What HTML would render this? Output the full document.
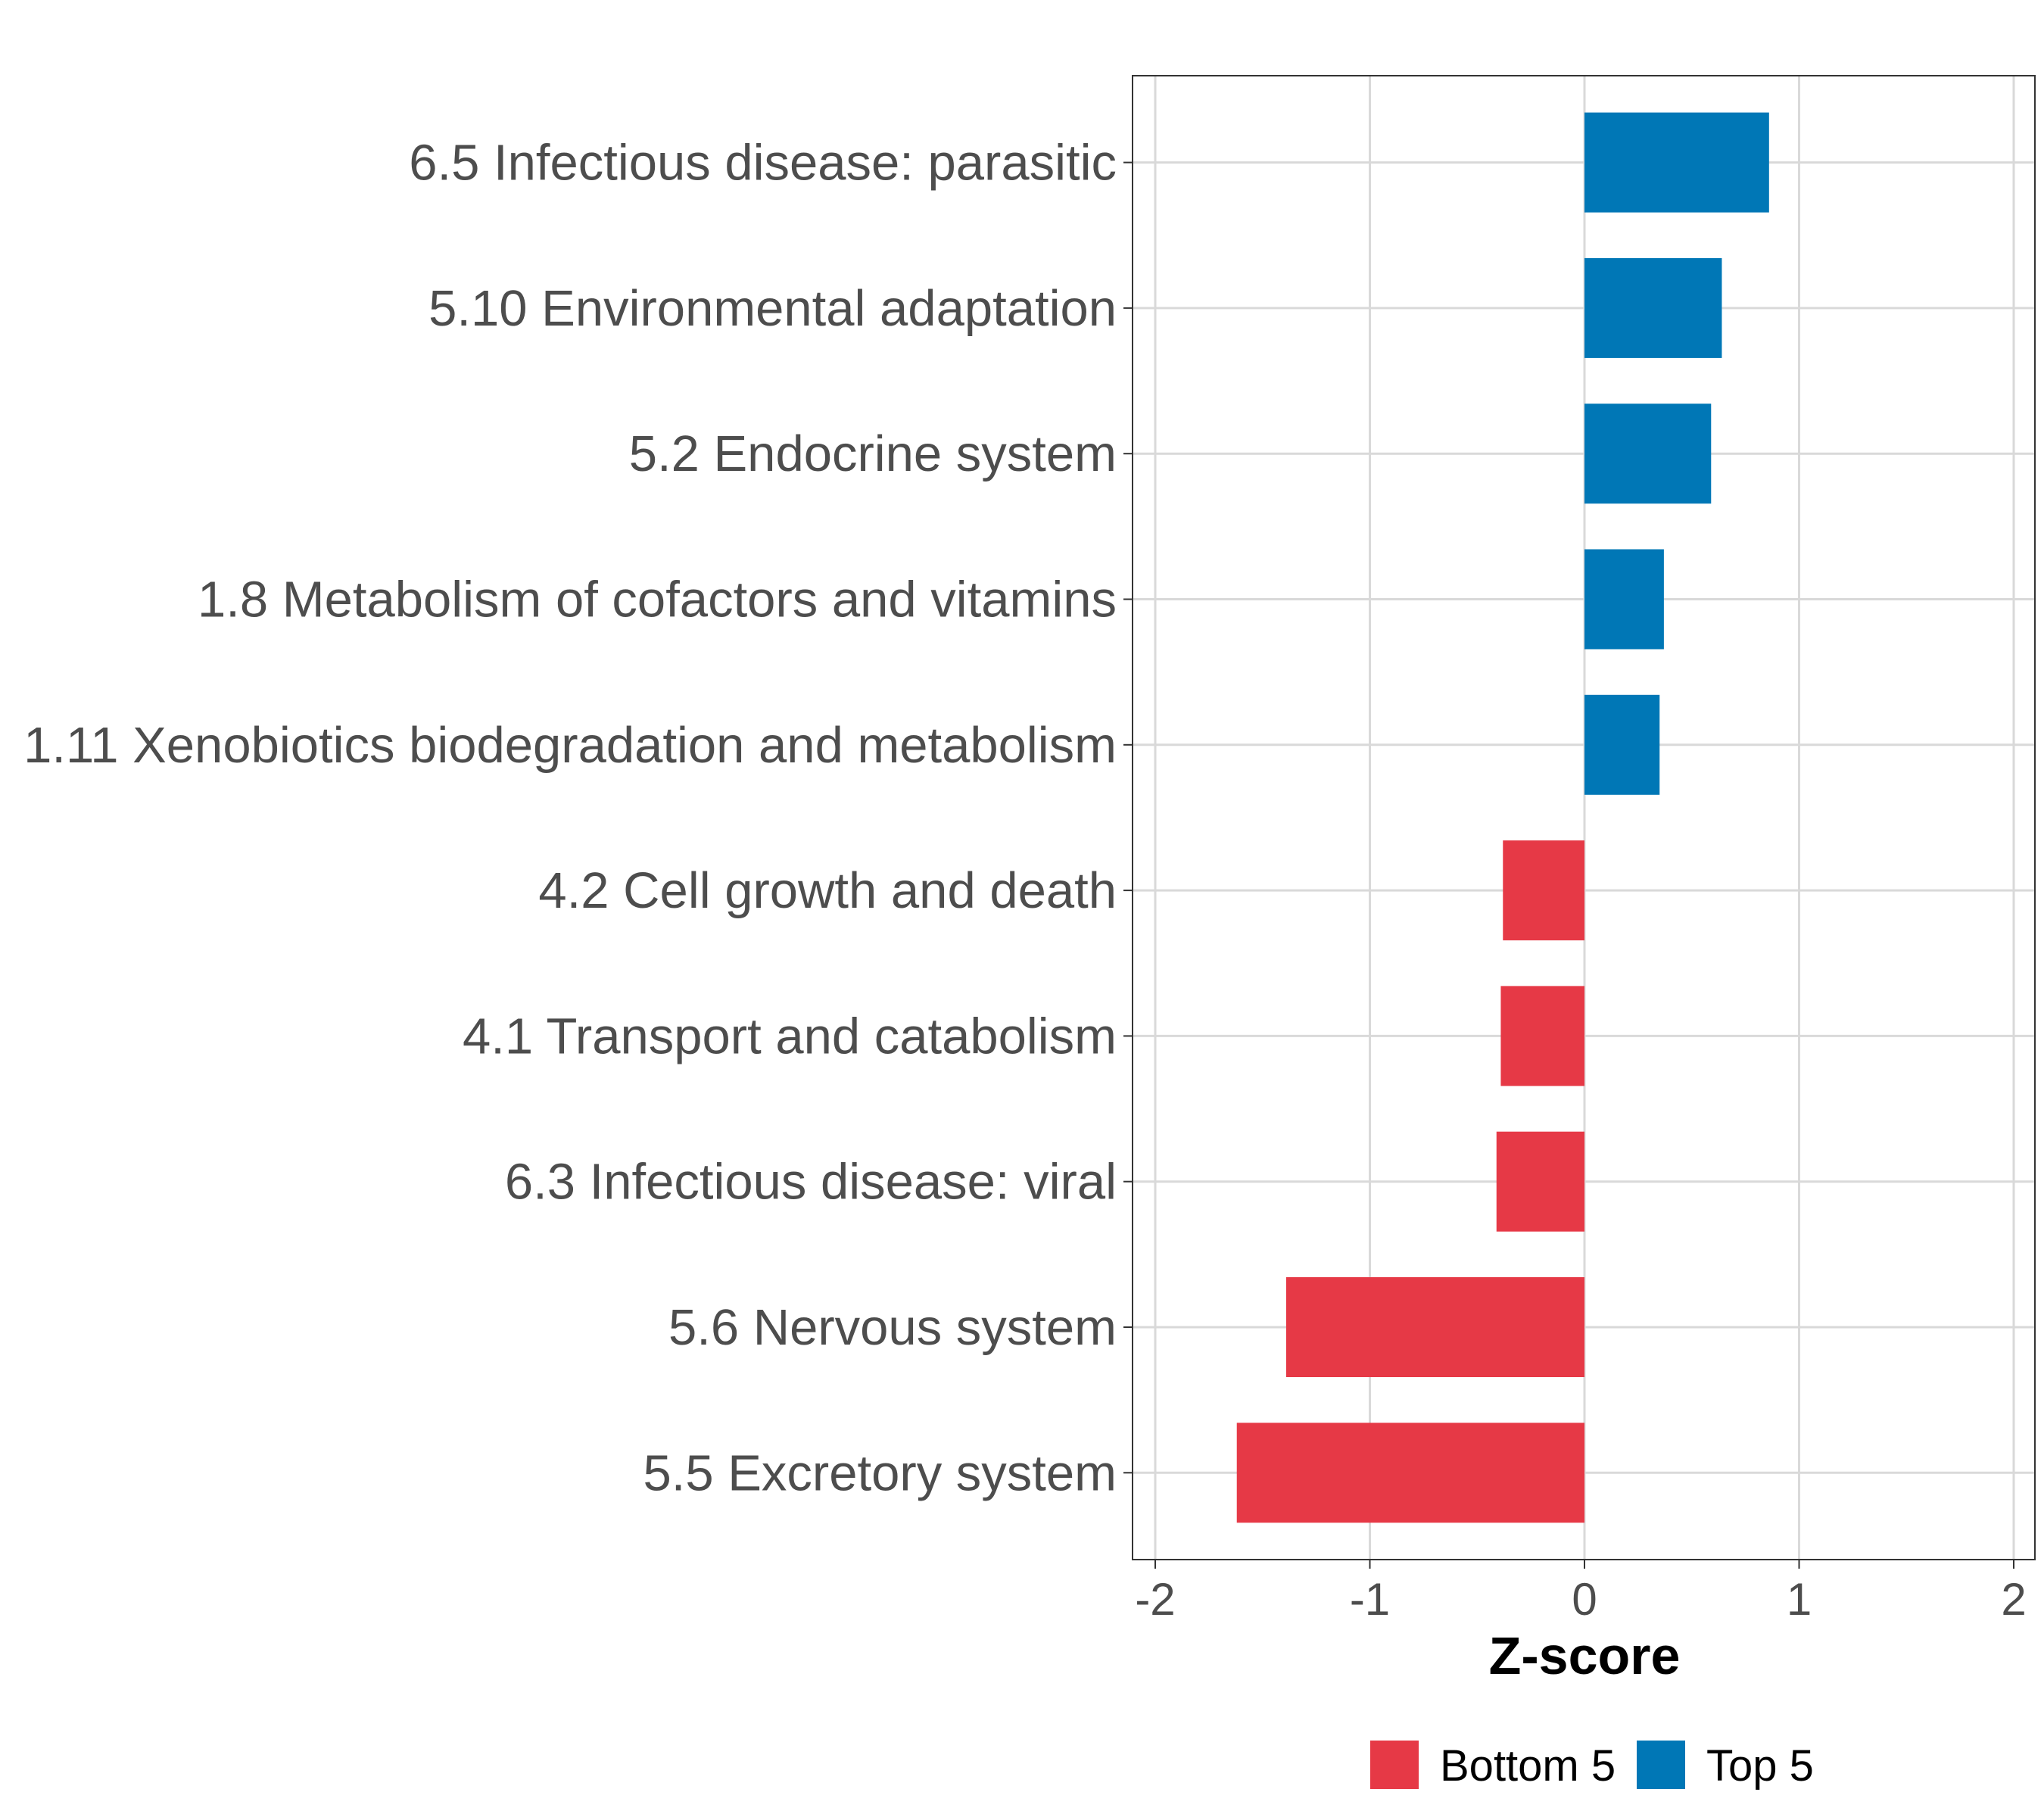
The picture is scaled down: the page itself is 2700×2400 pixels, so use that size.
<!DOCTYPE html>
<html><head><meta charset="utf-8"><style>
html,body{margin:0;padding:0;background:#fff;}
svg{display:block;font-family:"Liberation Sans",Arial,sans-serif;}
</style></head><body>
<svg id="chart" width="2700" height="2400" viewBox="0 0 2700 2400" xmlns="http://www.w3.org/2000/svg">
<rect x="0" y="0" width="2700" height="2400" fill="#fff"/>
<g id="grid"></g>
<g id="bars"></g>
<rect x="1496" y="100" width="1192" height="1960" fill="none" stroke="#333" stroke-width="2"/>
<g id="axes"></g>
<text x="2093" y="2211" text-anchor="middle" font-size="70" font-weight="bold" fill="#000">Z-score</text>
<g>
<rect x="1810" y="2299" width="64" height="64" fill="#e63946"/>
<text x="1902" y="2352" font-size="58" fill="#000">Bottom 5</text>
<rect x="2162" y="2299" width="64" height="64" fill="#0077b6"/>
<text x="2254" y="2352" font-size="58" fill="#000">Top 5</text>
</g>
</svg>
<script>
const categories = ["6.5 Infectious disease: parasitic","5.10 Environmental adaptation","5.2 Endocrine system","1.8 Metabolism of cofactors and vitamins","1.11 Xenobiotics biodegradation and metabolism","4.2 Cell growth and death","4.1 Transport and catabolism","6.3 Infectious disease: viral","5.6 Nervous system","5.5 Excretory system"];
const zScores = [0.86, 0.64, 0.59, 0.37, 0.35, -0.38, -0.39, -0.41, -1.39, -1.62];
const groups = ["Top 5","Top 5","Top 5","Top 5","Top 5","Bottom 5","Bottom 5","Bottom 5","Bottom 5","Bottom 5"];
const xTicks = [-2, -1, 0, 1, 2];
const xTickLabels = ["-2","-1","0","1","2"];

const NS = "http://www.w3.org/2000/svg";
const panel = {l:1496, r:2688, t:100, b:2060};
function xScale(v){ return 2093 + v * 283.5; }
function yScale(i){ return 214.6 + i * 192.3; }
const barH = 132;
const colors = {"Top 5":"#0077b6","Bottom 5":"#e63946"};
function mk(tag, attrs, parent){ const e=document.createElementNS(NS,tag); for(const k in attrs) e.setAttribute(k,attrs[k]); parent.appendChild(e); return e; }
const grid=document.getElementById('grid'), bars=document.getElementById('bars'), axes=document.getElementById('axes');

xTicks.forEach((t,i)=>{
  const x=xScale(t);
  const g=mk('line',{x1:x,x2:x,y1:panel.t,y2:panel.b,stroke:'#d9d9d9','stroke-width':3},grid);
  
  
  const tk=mk('line',{x1:x,x2:x,y1:panel.b,y2:panel.b+12,stroke:'#333','stroke-width':2},axes);
  
  
  const tl=mk('text',{x:x,y:2133,'text-anchor':'middle','font-size':60,fill:'#4d4d4d'},axes);
  tl.textContent=xTickLabels[i];
  
  
});
categories.forEach((c,i)=>{
  const y=yScale(i);
  const g=mk('line',{x1:panel.l,x2:panel.r,y1:y,y2:y,stroke:'#d9d9d9','stroke-width':3},grid);
  
  
  const v=zScores[i];
  const x0=xScale(Math.min(0,v)), x1=xScale(Math.max(0,v));
  const b=mk('rect',{x:x0,y:y-barH/2,width:x1-x0,height:barH,fill:colors[groups[i]]},bars);
  
  
  const tk=mk('line',{x1:panel.l-12,x2:panel.l,y1:y,y2:y,stroke:'#333','stroke-width':2},axes);
  
  
  const tl=mk('text',{x:1475,y:y+23,'text-anchor':'end','font-size':67,fill:'#4d4d4d'},axes);
  tl.textContent=c;
  
  
});
</script>
</body></html>
